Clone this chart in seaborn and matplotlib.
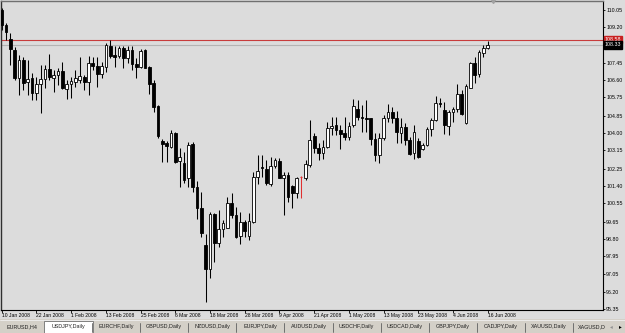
import matplotlib
matplotlib.use("Agg")
import matplotlib.pyplot as plt
import matplotlib.transforms as mtransforms
from matplotlib.patches import Rectangle
import seaborn as sns
import numpy as np
import pandas as pd

# ---------------- data (USDJPY daily, 10 Jan 2008 - 16 Jun 2008) ----------------
opens = [110.05,109.31,108.62,108.08,106.71,107.59,106.51,106.71,105.97,106.41,
         106.66,107.15,106.71,106.85,107.05,106.17,106.41,106.51,106.61,106.76,
         106.51,107.44,107.30,106.90,107.25,108.28,107.84,107.79,108.18,107.69,
         108.08,107.40,107.25,108.08,107.25,106.46,105.33,103.61,103.51,103.31,
         104.00,102.63,102.53,101.79,103.46,101.35,100.32,98.49,97.32,100.02,
         98.59,99.28,99.33,100.56,99.97,98.94,99.63,98.94,99.63,101.84,
         102.33,102.23,101.50,102.38,102.63,101.79,101.94,101.40,101.05,101.84,
         101.79,102.43,103.86,103.27,103.02,103.31,104.25,104.40,104.15,104.00,
         103.81,104.40,105.18,104.79,104.74,104.74,103.71,102.92,103.76,104.74,
         105.04,104.74,104.00,104.30,103.66,103.02,103.61,103.22,103.41,104.20,
         104.64,105.48,105.13,104.35,105.04,105.18,105.92,104.49,106.22,107.44,
         106.90,107.94,108.18]
highs = [110.15,109.41,108.92,108.23,107.84,107.74,107.59,106.95,106.76,107.35,
         107.35,107.89,107.10,107.20,107.49,106.61,106.76,107.10,107.74,106.85,
         107.79,107.74,107.74,107.49,108.43,108.58,108.28,108.28,108.28,108.28,
         108.28,107.69,108.13,108.13,107.30,106.61,105.38,103.71,103.61,104.15,
         104.05,103.27,103.07,103.56,103.56,101.64,101.10,99.04,100.12,100.07,
         100.22,99.73,100.86,101.05,100.37,100.12,99.73,100.07,102.09,102.92,
         102.92,102.68,102.82,102.77,102.77,102.09,102.09,101.45,101.84,101.89,
         102.68,104.64,104.00,103.51,103.66,104.54,104.79,104.79,104.40,104.79,
         104.54,105.67,105.63,105.38,105.63,104.74,104.00,104.00,104.89,105.43,
         105.28,105.08,104.74,104.49,103.81,104.40,103.76,103.51,104.30,104.74,
         105.82,105.72,105.53,105.13,105.28,106.41,106.12,106.41,107.49,107.74,
         108.08,108.33,108.53]
lows = [109.07,108.58,107.35,106.61,105.87,106.12,105.87,105.63,105.63,104.99,
        106.22,106.61,106.02,106.36,106.17,105.67,105.72,106.26,106.46,106.12,
        105.87,107.10,106.26,106.71,107.00,107.69,107.25,107.69,107.20,107.44,
        107.10,106.71,107.20,107.20,105.92,105.04,103.76,102.58,102.58,103.27,
        102.53,101.35,101.55,101.35,101.10,99.78,98.89,95.69,96.87,97.66,
        98.40,98.89,99.33,99.82,98.84,98.54,98.89,98.74,99.58,101.50,
        101.84,101.45,101.40,102.28,101.79,99.97,100.61,100.32,100.81,100.81,
        101.69,102.33,103.02,102.68,102.72,103.27,103.90,103.90,103.22,103.66,
        103.66,104.30,104.64,104.05,104.05,103.41,102.63,102.53,103.66,104.54,
        104.49,103.51,103.51,103.41,102.92,102.72,102.77,103.17,103.36,103.86,
        104.59,105.28,103.95,103.90,104.54,105.04,104.89,104.45,106.22,106.46,
        106.76,107.74,108.13]
closes = [109.31,108.97,108.13,106.71,107.59,106.46,106.66,105.97,106.41,106.66,
          107.15,106.76,106.85,107.05,106.22,106.41,106.56,106.71,106.81,106.51,
          107.44,107.30,106.90,107.30,108.33,107.79,107.74,108.18,107.69,108.08,
          107.40,107.25,108.03,107.20,106.41,105.28,103.86,103.46,103.36,104.00,
          102.58,102.82,101.69,103.41,101.35,100.32,99.09,97.32,100.02,98.59,
          99.28,99.58,100.56,99.97,98.89,99.63,99.18,99.68,101.84,102.13,
          102.28,101.55,102.38,102.68,101.79,101.94,100.86,101.05,101.79,101.84,
          102.48,103.66,103.27,103.02,103.31,104.25,104.35,104.15,103.95,103.81,
          104.35,105.33,104.79,104.74,104.69,103.71,102.92,103.76,104.74,105.04,
          104.74,104.05,104.30,103.66,102.97,104.05,102.82,103.41,104.20,104.64,
          105.48,105.43,104.40,105.04,105.18,105.92,104.94,106.31,107.44,106.85,
          107.98,108.18,108.33]
red_bars = [69]
start_date = "2008-01-10"
date_label_every = 8
ytick_values = [110.05, 109.20, 107.45, 106.60, 105.75, 104.85, 104.00, 103.15,
                102.25, 101.40, 100.55, 99.65, 98.80, 97.95, 97.05, 96.20, 95.35]
ytick_labels = ["110.05", "109.20", "107.45", "106.60", "105.75", "104.85", "104.00",
                "103.15", "102.25", "101.40", "100.55", "99.65", "98.80", "97.95",
                "97.05", "96.20", "95.35"]
ask_price = 108.58
bid_price = 108.33
tabs = ["EURUSD,H4", "USDJPY,Daily", "EURCHF,Daily", "GBPUSD,Daily", "NZDUSD,Daily",
        "EURJPY,Daily", "AUDUSD,Daily", "USDCHF,Daily", "USDCAD,Daily", "GBPJPY,Daily",
        "CADJPY,Daily", "XAUUSD,Daily", "XAGUSD,D"]
active_tab = 1

# ---------------- dataframe ----------------
n = len(opens)
dates = pd.bdate_range(start_date, periods=n)
df = pd.DataFrame({"date": dates, "open": opens, "high": highs,
                   "low": lows, "close": closes})
df["idx"] = np.arange(n)
df["up"] = df["close"] >= df["open"]
df["red"] = df["idx"].isin(red_bars)

# ---------------- figure ----------------
W, H = 625, 333
BG = "#dcdcdc"
sns.set_theme(style="white")
plt.rcParams["font.family"] = ["Liberation Sans", "DejaVu Sans"]

fig = plt.figure(figsize=(W / 100, H / 100), dpi=100, facecolor=BG)
ax_left, ax_right, ax_top, ax_bot = 1, 603, 1, 309.5
ax = fig.add_axes([ax_left / W, (H - ax_bot) / H, (ax_right - ax_left) / W,
                   (ax_bot - ax_top) / H])
ax.set_facecolor(BG)

bar_px = 4.34
x0_px = 1.7
ax.set_xlim((ax_left - x0_px) / bar_px, (ax_right - x0_px) / bar_px)
ax.set_ylim(95.327, 110.49)

# bid / ask lines
ax.axhline(bid_price, color="#b4b4b4", lw=0.8, zorder=1)
ax.axhline(ask_price, color="#c83c3c", lw=0.8, zorder=1)

normal = df[~df["red"]]
ax.vlines(normal["idx"], normal["low"], normal["high"], color="black",
          lw=0.75, zorder=2)
body_lo = np.minimum(normal["open"], normal["close"])
body_h = (normal["close"] - normal["open"]).abs()
ax.bar(normal["idx"], body_h, bottom=body_lo, width=0.62,
       color=np.where(normal["up"], "white", "black"), edgecolor="black",
       linewidth=0.6, zorder=3)

red = df[df["red"]]
ax.vlines(red["idx"], red["low"], red["high"], color="#e03030", lw=0.75, zorder=2)
ax.hlines(red["open"], red["idx"] - 0.3, red["idx"] + 0.3, color="#e03030",
          lw=0.8, zorder=3)

# chart shift marker
ax.plot([n + 0.2], [1.0], marker="v", color="#a0a0a0", markersize=3,
        transform=mtransforms.blended_transform_factory(ax.transData, ax.transAxes),
        clip_on=False, zorder=5)

# axes cosmetics
for side in ["right", "bottom"]:
    ax.spines[side].set_color("black")
    ax.spines[side].set_linewidth(0.8)
ax.spines["left"].set_color("#303030")
ax.spines["left"].set_linewidth(1.0)
ax.spines["top"].set_color("#707070")
ax.spines["top"].set_linewidth(1.0)
ax.grid(False)

pos = df["idx"].values[::date_label_every]
labels = [f"{d.day} {d.strftime('%b %Y')}" for d in df["date"].iloc[::date_label_every]]
ax.set_xticks(pos)
ax.set_xticklabels(labels, ha="left", fontsize=3.6)
ax.tick_params(axis="x", direction="out", length=2.0, width=0.6, pad=0.6,
               colors="black", bottom=True)

ax.yaxis.tick_right()
ax.set_yticks(ytick_values)
ax.set_yticklabels(ytick_labels, fontsize=3.8)
ax.tick_params(axis="y", direction="out", length=1.6, width=0.6, pad=0.6,
               colors="black", right=True, left=False)

trans = mtransforms.blended_transform_factory(ax.transAxes, ax.transData)
ax.text(1.003, ask_price, f"{ask_price:.2f}", transform=trans, fontsize=3.8,
        color="white", va="center", ha="left", clip_on=False, zorder=6,
        bbox=dict(boxstyle="square,pad=0.2", fc="#c82020", ec="#c82020"))
ax.text(1.003, bid_price, f"{bid_price:.2f}", transform=trans, fontsize=3.8,
        color="white", va="center", ha="left", clip_on=False, zorder=6,
        bbox=dict(boxstyle="square,pad=0.2", fc="black", ec="black"))

# ---------------- tab bar ----------------
tab_h = 14
tax = fig.add_axes([0, 0, 1, tab_h / H])
tax.set_xlim(0, W)
tax.set_ylim(tab_h, 0)
tax.axis("off")
tax.add_patch(Rectangle((0, 0), W, tab_h, fc="#d4d0c8", ec="none"))
tax.plot([0, W], [0.5, 0.5], color="#f0f0f0", lw=0.6)
tab_w = 48.1
centers = [22] + [68 + tab_w * k for k in range(len(tabs) - 1)]
tax.add_patch(Rectangle((centers[active_tab] - 24, 1.5), 48.5, tab_h - 2.0,
                        fc="white", ec="#707070", lw=0.6))
for k, (name, cx) in enumerate(zip(tabs, centers)):
    if k == len(tabs) - 1:
        tax.text(578, 7.5, name, fontsize=3.9, va="center", ha="left", color="#202020")
    else:
        tax.text(cx, 7.5, name, fontsize=3.9, va="center", ha="center", color="#202020")
    if k >= 2:
        sx = cx - tab_w / 2
        tax.plot([sx, sx], [3.5, 12.5], color="#606060", lw=0.6)
tax.add_patch(Rectangle((606, 1.5), 19, tab_h - 2.5, fc="#d4d0c8", ec="none"))
tax.text(611, 7.5, "\u25c2", fontsize=4, va="center", ha="center", color="#909090",
         family=["DejaVu Sans"])
tax.text(620, 7.5, "\u25b8", fontsize=4, va="center", ha="center", color="black",
         family=["DejaVu Sans"])

fig.savefig("out.png", dpi=100, facecolor=BG)
